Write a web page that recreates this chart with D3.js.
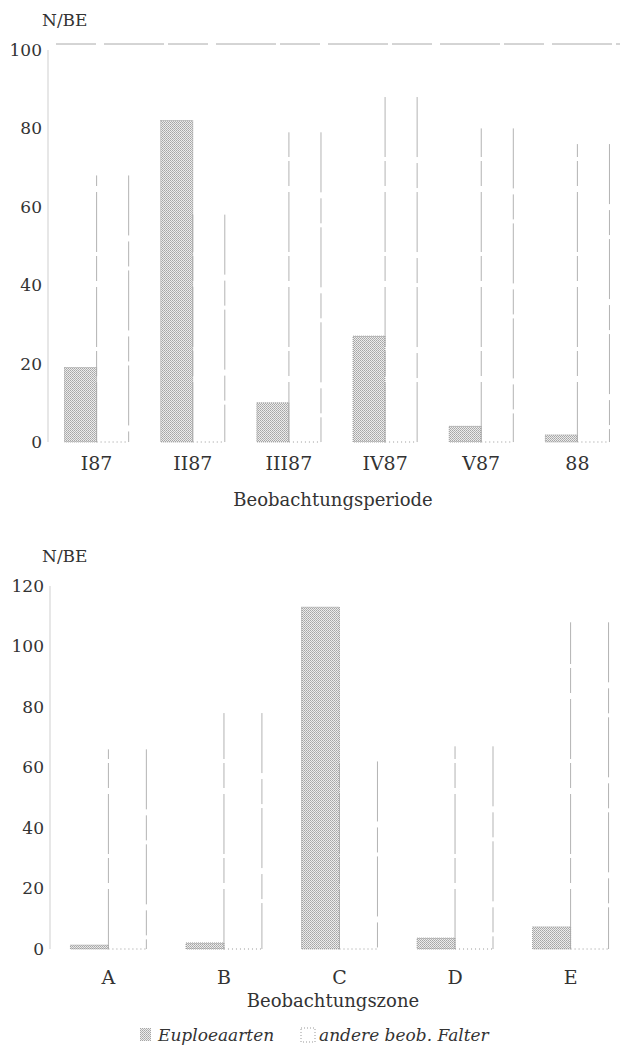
<!DOCTYPE html>
<html>
<head>
<meta charset="utf-8">
<script src="https://cdn.jsdelivr.net/npm/d3@7"></script>
<style>
  body { margin: 0; background: #fff; }
</style>
</head>
<body>
<svg id="chart" width="623" height="1055"></svg>
<script>
// Beobachtungsperiode (upper panel)
const periods = ["I87", "II87", "III87", "IV87", "V87", "88"];
const euploeaPeriode = [19, 82, 10, 27, 4, 1.8];
const anderePeriode = [68, 58, 79, 88, 80, 76];
const periodTicks = [0, 20, 40, 60, 80, 100];

// Beobachtungszone (lower panel)
const zones = ["A", "B", "C", "D", "E"];
const euploeaZone = [1.3, 2, 113, 3.6, 7.3];
const andereZone = [66, 78, 62, 67, 108];
const zoneTicks = [0, 20, 40, 60, 80, 100, 120];

const seriesNames = ["Euploeaarten", "andere beob. Falter"];

const svg = d3.select("#chart")
  .attr("font-family", "'DejaVu Serif', serif");

// stippled fill like the printed screen
const defs = svg.append("defs");
const pat = defs.append("pattern")
  .attr("id", "stipple")
  .attr("width", 2).attr("height", 2)
  .attr("patternUnits", "userSpaceOnUse");
pat.append("rect").attr("width", 2).attr("height", 2).attr("fill", "#ececec");
pat.append("rect").attr("width", 1).attr("height", 1).attr("fill", "#a6a6a6");
pat.append("rect").attr("x", 1).attr("y", 1).attr("width", 1).attr("height", 1).attr("fill", "#b4b4b4");

// draw one panel
function panel(cfg) {
  const rows = cfg.cats.map((c, i) => ({cat: c, eup: cfg.eup[i], and: cfg.and[i]}));

  const x = d3.scaleBand()
    .domain(cfg.cats)
    .range(cfg.xRange)
    .paddingInner(cfg.padIn)
    .paddingOuter(cfg.padOut);
  const half = x.bandwidth() / 2;

  const y = d3.scaleLinear()
    .domain([0, cfg.max])
    .range(cfg.yRange);

  const g = svg.append("g").attr("fill", "#333");

  // faint axis line
  g.append("line")
    .attr("x1", cfg.axisX).attr("x2", cfg.axisX)
    .attr("y1", y(0)).attr("y2", y(cfg.max))
    .attr("stroke", "#cfcfcf").attr("stroke-width", 1);

  // tick labels
  g.selectAll(".tick")
    .data(cfg.ticks)
    .enter()
    .append("text")
    .attr("x", cfg.axisX - 6)
    .attr("y", d => y(d))
    .attr("dy", "0.35em")
    .attr("text-anchor", "end")
    .attr("font-size", 17)
    .text(d => d);

  g.append("text")
    .attr("x", 42).attr("y", cfg.yRange[1] - 24)
    .attr("font-size", 17)
    .text("N/BE");

  if (cfg.frame) {
    g.append("line")
      .attr("x1", cfg.axisX + 8).attr("x2", 620)
      .attr("y1", y(cfg.max) - 6).attr("y2", y(cfg.max) - 6)
      .attr("stroke", "#aaa")
      .attr("stroke-dasharray", "40,8,60,4");
  }

  // Euploea bars (stippled)
  g.selectAll(".eup")
    .data(rows)
    .enter()
    .append("rect")
    .attr("x", d => x(d.cat))
    .attr("y", d => y(d.eup))
    .attr("width", half)
    .attr("height", d => y(0) - y(d.eup))
    .attr("fill", "url(#stipple)")
    .attr("stroke", "#888")
    .attr("stroke-width", 0.8)
    .attr("stroke-dasharray", "1,1");

  // other butterflies: white bars, only faint sides survive in the print
  g.selectAll(".and-side")
    .data(rows)
    .enter()
    .append("path")
    .attr("d", d => {
      const x0 = x(d.cat) + half, x1 = x(d.cat) + 2 * half;
      return `M${x0},${y(0)}V${y(d.and)}M${x1},${y(d.and)}V${y(0)}`;
    })
    .attr("fill", "none")
    .attr("stroke", "#aaa")
    .attr("stroke-width", 0.9)
    .attr("stroke-dasharray", "60,6,25,4");

  g.selectAll(".and-base")
    .data(rows)
    .enter()
    .append("line")
    .attr("x1", d => x(d.cat) + half)
    .attr("x2", d => x(d.cat) + 2 * half)
    .attr("y1", y(0)).attr("y2", y(0))
    .attr("stroke", "#999")
    .attr("stroke-dasharray", "1,3");

  // category labels
  g.selectAll(".cat")
    .data(cfg.cats)
    .enter()
    .append("text")
    .attr("x", d => x(d) + half)
    .attr("y", y(0) + cfg.labelDy)
    .attr("text-anchor", "middle")
    .attr("font-size", 19)
    .text(d => d);

  g.append("text")
    .attr("x", 333).attr("y", y(0) + cfg.titleDy)
    .attr("text-anchor", "middle")
    .attr("font-size", 18)
    .text(cfg.title);
}

panel({
  cats: periods, eup: euploeaPeriode, and: anderePeriode, ticks: periodTicks,
  max: 100, xRange: [48, 626], padIn: 1 / 3, padOut: 0.172,
  yRange: [442, 50], axisX: 48, frame: true,
  labelDy: 28, titleDy: 64, title: "Beobachtungsperiode"
});

panel({
  cats: zones, eup: euploeaZone, and: andereZone, ticks: zoneTicks,
  max: 120, xRange: [50, 629], padIn: 0.343, padOut: 0.177,
  yRange: [949, 586], axisX: 50, frame: false,
  labelDy: 35, titleDy: 58, title: "Beobachtungszone"
});

// legend
const legend = svg.append("g").attr("transform", "translate(140,1028)").attr("fill", "#333");
legend.append("rect")
  .attr("width", 11).attr("height", 13)
  .attr("fill", "url(#stipple)");
legend.append("text")
  .attr("x", 18).attr("y", 13)
  .attr("font-size", 17).attr("font-style", "italic")
  .text(seriesNames[0]);
legend.append("rect")
  .attr("x", 161).attr("width", 14).attr("height", 14)
  .attr("fill", "#fff").attr("stroke", "#999")
  .attr("stroke-dasharray", "1,2");
legend.append("text")
  .attr("x", 179).attr("y", 13)
  .attr("font-size", 17).attr("font-style", "italic")
  .text(seriesNames[1]);
</script>
</body>
</html>
